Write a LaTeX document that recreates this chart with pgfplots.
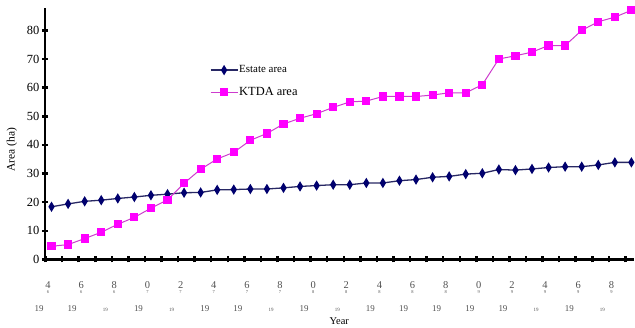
\documentclass[border=0pt]{standalone}
\usepackage{pgfplots}
\pgfplotsset{compat=1.18}
\usepackage{pgfplotstable}
\usepackage{fontspec}
\setmainfont{Liberation Serif}
\definecolor{navy}{RGB}{0,0,110}
\definecolor{navyline}{RGB}{40,40,100}
\definecolor{mag}{RGB}{255,0,255}
\definecolor{magline}{RGB}{205,60,205}
\definecolor{lblgray}{RGB}{80,80,80}
\newcommand{\yl}[3]{\makebox[0pt]{#1}\\[-6.5bp]\makebox[0pt]{\fontsize{4.5}{5}\selectfont #2}\\[7bp]\makebox[0pt]{\hspace*{-18bp}\fontsize{#3}{#3}\selectfont 19}}
\pgfplotstableread{
year estate ktda
1964 18.4 4.6
1965 19.4 5.2
1966 20.3 7.3
1967 20.7 9.5
1968 21.3 12.3
1969 21.8 14.7
1970 22.4 17.9
1971 22.8 20.8
1972 23.3 26.6
1973 23.4 31.5
1974 24.3 35.1
1975 24.4 37.4
1976 24.6 41.6
1977 24.6 44.0
1978 25.0 47.3
1979 25.5 49.3
1980 25.8 50.9
1981 26.1 53.1
1982 26.1 55.0
1983 26.7 55.3
1984 26.7 56.9
1985 27.5 56.9
1986 27.9 56.9
1987 28.7 57.4
1988 29.0 58.2
1989 29.8 58.2
1990 30.1 61.0
1991 31.4 70.0
1992 31.2 71.1
1993 31.6 72.4
1994 32.1 74.7
1995 32.4 74.7
1996 32.4 80.0
1997 33.0 83.0
1998 33.9 84.6
1999 33.9 87.0
}\datatable
\begin{document}
\begin{tikzpicture}
\begin{axis}[
  name=ax,
  scale only axis,
  width=590bp, height=252bp,
  xmin=1963.6, xmax=1999.14,
  ymin=0, ymax=87.8,
  axis lines=left,
  axis line style={-, line width=2.5bp, black},
  tick style={line width=2.5bp, black},
  tick align=center,
  major tick length=6bp,
  minor tick length=6bp,
  ytick={0,10,...,80},
  xtick={1963.64,1965.64,1967.64,1969.64,1971.64,1973.64,1975.64,1977.64,1979.64,1981.64,1983.64,1985.64,1987.64,1989.64,1991.64,1993.64,1995.64,1997.64},
  minor xtick={1964.64,1966.64,1968.64,1970.64,1972.64,1974.64,1976.64,1978.64,1980.64,1982.64,1984.64,1986.64,1988.64,1990.64,1992.64,1994.64,1996.64,1998.64},
  xticklabels={
    {\yl{4}{6}{9}},{\yl{6}{6}{9}},{\yl{8}{6}{5}},{\yl{0}{7}{9}},{\yl{2}{7}{5}},{\yl{4}{7}{9}},
    {\yl{6}{7}{9}},{\yl{8}{7}{5}},{\yl{0}{8}{9}},{\yl{2}{8}{5}},{\yl{4}{8}{9}},{\yl{6}{8}{9}},
    {\yl{8}{8}{9}},{\yl{0}{9}{9}},{\yl{2}{9}{9}},{\yl{4}{9}{5}},{\yl{6}{9}{9}},{\yl{8}{9}{5}}},
  xticklabel style={align=center, font=\fontsize{10.5}{11}\selectfont, text=lblgray, yshift=-16bp, xshift=2.5bp},
  yticklabel style={font=\fontsize{12.5}{13}\selectfont, xshift=1bp},
  /pgf/number format/assume math mode=true,
  xlabel={Year},
  xlabel style={font=\fontsize{10.5}{11}\selectfont, yshift=1bp},
  ylabel={Area (ha)},
  ylabel style={font=\fontsize{11.5}{12}\selectfont, at={(rel axis cs:-0.056,0.437)}, anchor=center},
  legend style={draw=none, fill=none, at={(rel axis cs:0.28,0.775)}, anchor=north west,
    row sep=11bp, inner sep=0pt, nodes={inner sep=1bp}},
  legend cell align=left,
  legend image code/.code={\draw[mark repeat=2,mark phase=2,#1] plot coordinates {(0bp,0bp) (13.5bp,0bp) (27bp,0bp)};},
  clip=false,
]
\addplot[color=navyline, line width=1.3bp, mark=diamond*, mark size=4bp, mark options={fill=navy, draw=navy, xscale=0.8, solid}] table[x=year, y=estate] {\datatable};
\addlegendentry{\fontsize{11}{12}\selectfont Estate area}
\addplot[color=magline, line width=1bp, mark=square*, mark size=3.6bp, mark options={fill=mag, draw=mag, solid}] table[x=year, y=ktda] {\datatable};
\addlegendentry{\fontsize{12.5}{13}\selectfont KTDA area}
\end{axis}
\path[use as bounding box] ([xshift=-45bp,yshift=-66bp]ax.south west) rectangle ([yshift=8bp]ax.north east);
\end{tikzpicture}
\end{document}
